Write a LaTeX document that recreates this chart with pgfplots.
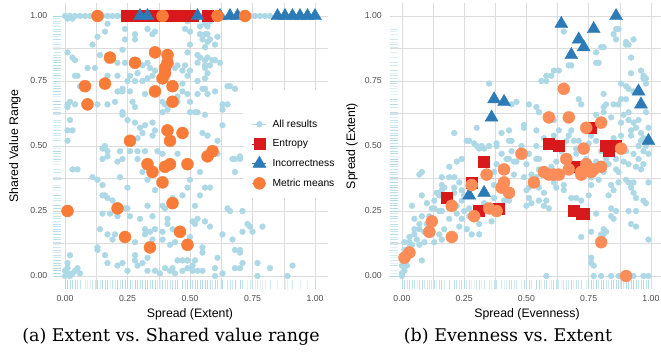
\documentclass[border=0pt]{standalone}
\usepackage{fontspec}
\setsansfont{Liberation Sans}
\newfontfamily\capfont{DejaVu Serif}
\usepackage{pgfplots}
\usepackage{pgfplotstable}
\pgfplotsset{compat=1.18}
\definecolor{ptblue}{HTML}{ADD8E6}
\definecolor{entred}{HTML}{D7191C}
\definecolor{incblue}{HTML}{2C7BB6}
\definecolor{orA}{HTML}{F97B38}
\definecolor{orB}{HTML}{FC8D59}
\definecolor{gridc}{HTML}{DCDCDC}
\definecolor{tickc}{HTML}{4D4D4D}

% ---------- (a) Extent vs shared value range ----------
\pgfplotstableread[row sep=\\]{x y\\
0.00 1.00\\ 0.02 1.00\\ 0.04 1.00\\ 0.06 1.00\\ 0.08 1.00\\ 0.10 1.00\\ 0.12 1.00\\ 0.15 1.00\\ 0.17 1.00\\ 0.19 1.00\\
0.21 1.00\\ 0.23 1.00\\ 0.26 1.00\\ 0.30 1.00\\ 0.34 1.00\\ 0.37 1.00\\ 0.42 1.00\\ 0.45 1.00\\ 0.48 1.00\\ 0.51 1.00\\
0.55 1.00\\ 0.59 1.00\\ 0.63 1.00\\ 0.66 1.00\\ 0.70 1.00\\ 0.74 1.00\\ 0.76 1.00\\ 0.78 1.00\\ 0.80 1.00\\ 0.82 1.00\\
0.85 1.00\\ 0.88 1.00\\ 0.91 1.00\\ 0.94 1.00\\ 0.97 1.00\\ 1.00 1.00\\ 0.01 0.99\\ 0.03 0.99\\
0.17 0.97\\ 0.16 0.94\\ 0.13 0.92\\ 0.24 0.95\\ 0.24 0.91\\ 0.28 0.93\\ 0.28 0.91\\ 0.33 0.95\\ 0.35 0.93\\ 0.36 0.94\\
0.11 0.89\\ 0.23 0.87\\ 0.01 0.86\\ 0.03 0.84\\ 0.04 0.83\\ 0.14 0.85\\ 0.21 0.82\\ 0.24 0.82\\ 0.31 0.81\\ 0.34 0.80\\
0.33 0.82\\ 0.09 0.80\\ 0.12 0.80\\ 0.17 0.77\\ 0.21 0.77\\ 0.04 0.77\\ 0.05 0.77\\ 0.26 0.77\\ 0.29 0.78\\ 0.28 0.75\\
0.25 0.75\\ 0.23 0.72\\ 0.21 0.71\\ 0.23 0.71\\ 0.26 0.71\\ 0.31 0.75\\ 0.32 0.70\\ 0.33 0.76\\ 0.35 0.77\\ 0.36 0.79\\
0.44 0.80\\ 0.45 0.81\\ 0.47 0.79\\ 0.49 0.77\\ 0.47 0.74\\ 0.47 0.71\\ 0.45 0.69\\ 0.45 0.67\\ 0.39 0.67\\ 0.40 0.66\\
0.41 0.64\\ 0.06 0.73\\ 0.02 0.67\\ 0.01 0.66\\ 0.01 0.65\\ 0.04 0.66\\ 0.13 0.66\\ 0.17 0.66\\ 0.20 0.67\\ 0.27 0.67\\
0.28 0.65\\ 0.23 0.63\\ 0.23 0.62\\ 0.25 0.60\\ 0.28 0.59\\ 0.32 0.58\\ 0.35 0.59\\ 0.30 0.57\\ 0.31 0.55\\ 0.29 0.53\\
0.35 0.54\\ 0.01 0.56\\ 0.03 0.56\\ 0.01 0.52\\ 0.02 0.60\\ 0.16 0.50\\ 0.39 0.63\\ 0.36 0.56\\
0.49 0.98\\ 0.48 0.95\\ 0.50 0.94\\ 0.54 0.96\\ 0.56 0.97\\ 0.57 0.96\\ 0.58 0.98\\ 0.54 0.93\\ 0.56 0.93\\ 0.57 0.93\\
0.58 0.91\\ 0.55 0.91\\ 0.57 0.90\\ 0.56 0.88\\ 0.60 0.89\\ 0.61 0.92\\ 0.50 0.89\\ 0.49 0.86\\ 0.53 0.85\\ 0.54 0.84\\
0.56 0.83\\ 0.57 0.84\\ 0.59 0.83\\ 0.53 0.82\\ 0.56 0.81\\ 0.56 0.80\\ 0.58 0.81\\ 0.60 0.83\\ 0.62 0.82\\ 0.48 0.81\\
0.50 0.79\\ 0.57 0.78\\ 0.56 0.76\\ 0.53 0.75\\ 0.56 0.72\\ 0.55 0.72\\ 0.57 0.70\\ 0.53 0.70\\ 0.60 0.71\\ 0.65 0.73\\
0.66 0.73\\ 0.68 0.72\\ 0.49 0.70\\ 0.50 0.67\\ 0.50 0.63\\ 0.52 0.63\\ 0.53 0.63\\ 0.56 0.62\\ 0.63 0.66\\ 0.65 0.66\\
0.63 0.64\\ 0.63 0.58\\ 0.55 0.55\\ 0.61 0.52\\ 0.67 0.45\\ 0.70 0.46\\ 0.57 0.54\\
0.15 0.49\\ 0.17 0.48\\ 0.15 0.45\\ 0.17 0.46\\ 0.21 0.44\\ 0.23 0.45\\ 0.22 0.48\\ 0.26 0.48\\ 0.29 0.48\\ 0.29 0.45\\
0.32 0.48\\ 0.37 0.48\\ 0.39 0.47\\ 0.45 0.47\\ 0.03 0.41\\ 0.05 0.41\\ 0.11 0.38\\ 0.13 0.37\\ 0.15 0.35\\ 0.22 0.38\\
0.31 0.40\\ 0.33 0.37\\ 0.25 0.34\\ 0.15 0.31\\ 0.16 0.31\\ 0.17 0.30\\ 0.19 0.29\\ 0.21 0.27\\ 0.24 0.26\\ 0.25 0.26\\
0.33 0.27\\ 0.39 0.27\\ 0.40 0.26\\ 0.43 0.30\\ 0.44 0.29\\ 0.47 0.31\\ 0.36 0.33\\ 0.41 0.22\\ 0.41 0.20\\ 0.18 0.24\\
0.15 0.24\\ 0.21 0.23\\ 0.26 0.23\\ 0.30 0.22\\ 0.35 0.23\\ 0.14 0.18\\ 0.17 0.16\\ 0.20 0.16\\ 0.19 0.14\\ 0.24 0.15\\
0.28 0.13\\ 0.32 0.18\\ 0.32 0.16\\ 0.34 0.17\\ 0.36 0.18\\ 0.35 0.14\\ 0.39 0.17\\ 0.39 0.14\\ 0.43 0.18\\ 0.42 0.12\\
0.44 0.13\\ 0.49 0.13\\ 0.50 0.15\\ 0.13 0.11\\ 0.13 0.10\\ 0.16 0.08\\ 0.17 0.05\\ 0.21 0.04\\ 0.23 0.05\\ 0.28 0.08\\
0.28 0.06\\ 0.29 0.04\\ 0.33 0.07\\ 0.31 0.05\\ 0.33 0.02\\ 0.36 0.02\\ 0.38 0.01\\ 0.40 0.03\\ 0.42 0.02\\ 0.43 0.03\\
0.44 0.01\\ 0.45 0.06\\ 0.47 0.06\\ 0.47 0.02\\ 0.49 0.06\\ 0.25 0.02\\ 0.02 0.08\\ 0.01 0.05\\ 0.01 0.03\\ 0.01 0.01\\
0.03 0.01\\ 0.04 0.02\\ 0.06 0.01\\ 0.05 0.03\\ 0.00 0.00\\ 0.00 0.02\\ 0.02 0.00\\
0.61 0.47\\ 0.68 0.45\\ 0.70 0.45\\ 0.68 0.40\\ 0.54 0.40\\ 0.50 0.37\\ 0.56 0.34\\ 0.58 0.34\\ 0.49 0.34\\ 0.54 0.31\\
0.52 0.27\\ 0.65 0.26\\ 0.66 0.25\\ 0.71 0.25\\ 0.53 0.22\\ 0.51 0.21\\ 0.52 0.20\\ 0.56 0.21\\ 0.58 0.19\\ 0.73 0.20\\
0.74 0.19\\ 0.79 0.19\\ 0.75 0.17\\ 0.71 0.17\\ 0.63 0.16\\ 0.67 0.14\\ 0.68 0.10\\ 0.70 0.10\\ 0.70 0.09\\ 0.55 0.11\\
0.55 0.09\\ 0.61 0.07\\ 0.49 0.06\\ 0.71 0.05\\ 0.77 0.05\\ 0.68 0.03\\ 0.70 0.03\\ 0.82 0.03\\ 0.91 0.04\\ 0.49 0.03\\
0.51 0.02\\ 0.53 0.02\\ 0.55 0.02\\ 0.60 0.03\\ 0.63 0.01\\ 0.60 0.00\\ 0.77 0.00\\ 0.89 0.00\\ 0.52 0.06\\ 0.51 0.04\\
0.49 0.43\\
}\leftall

\pgfplotstableread[row sep=\\]{x y\\
0.245 1\\ 0.275 1\\ 0.305 1\\ 0.335 1\\ 0.365 1\\ 0.395 1\\ 0.425 1\\ 0.455 1\\ 0.485 1\\ 0.51 1\\ 0.57 1\\
}\leftent

\pgfplotstableread[row sep=\\]{x y\\
0.30 1\\ 0.33 1\\ 0.53 1\\ 0.62 1\\ 0.66 1\\ 0.69 1\\ 0.85 1\\ 0.88 1\\ 0.91 1\\ 0.94 1\\ 0.97 1\\ 1.00 1\\
}\leftinc

\pgfplotstableread[row sep=\\]{x y\\
0.13 1.00\\ 0.39 1.00\\ 0.61 1.00\\ 0.72 1.00\\ 0.36 0.86\\ 0.41 0.85\\ 0.41 0.82\\ 0.40 0.80\\ 0.40 0.78\\ 0.39 0.76\\
0.18 0.84\\ 0.28 0.82\\ 0.16 0.74\\ 0.08 0.73\\ 0.09 0.66\\ 0.36 0.71\\ 0.43 0.73\\ 0.43 0.67\\ 0.26 0.52\\ 0.41 0.56\\
0.42 0.52\\ 0.47 0.55\\ 0.33 0.43\\ 0.35 0.40\\ 0.40 0.42\\ 0.42 0.43\\ 0.49 0.43\\ 0.57 0.46\\ 0.59 0.48\\ 0.01 0.25\\
0.21 0.26\\ 0.43 0.28\\ 0.39 0.36\\ 0.24 0.15\\ 0.46 0.17\\ 0.34 0.11\\ 0.49 0.12\\
}\leftmean

% ---------- (b) Evenness vs extent ----------
\pgfplotstableread[row sep=\\]{x y\\
0.35 0.74\\ 0.44 0.66\\ 0.46 0.67\\ 0.21 0.55\\ 0.30 0.57\\ 0.40 0.55\\ 0.43 0.56\\ 0.49 0.58\\ 0.44 0.52\\ 0.26 0.52\\
0.27 0.52\\ 0.29 0.51\\ 0.32 0.50\\ 0.35 0.50\\ 0.38 0.51\\ 0.31 0.49\\
0.86 0.95\\ 0.87 0.95\\ 0.86 0.91\\ 0.90 0.89\\ 0.91 0.89\\ 0.92 0.84\\ 0.80 0.88\\ 0.81 0.88\\ 0.78 0.86\\ 0.79 0.82\\
0.68 0.81\\ 0.67 0.81\\ 0.63 0.79\\ 0.61 0.79\\ 0.58 0.77\\ 0.56 0.75\\ 0.92 0.78\\ 0.97 0.76\\ 0.98 0.76\\ 0.98 0.74\\
0.88 0.74\\ 0.90 0.73\\ 0.91 0.72\\ 0.93 0.71\\ 0.81 0.70\\ 0.88 0.68\\ 0.90 0.68\\ 0.71 0.68\\ 0.72 0.66\\ 0.81 0.65\\
0.82 0.66\\ 0.85 0.66\\ 0.87 0.66\\ 0.89 0.62\\ 0.91 0.63\\ 0.81 0.63\\ 0.78 0.62\\ 0.84 0.61\\ 0.98 0.63\\ 0.88 0.59\\
0.91 0.60\\ 0.93 0.59\\ 0.95 0.60\\ 0.94 0.57\\ 0.92 0.54\\ 0.51 0.66\\ 0.54 0.65\\ 0.55 0.63\\ 0.49 0.58\\ 0.61 0.60\\
0.63 0.56\\ 0.67 0.54\\ 0.61 0.54\\ 0.68 0.56\\ 0.69 0.52\\ 0.71 0.52\\ 0.54 0.50\\ 0.66 0.52\\ 0.76 0.54\\ 0.78 0.52\\
0.85 0.53\\ 0.88 0.54\\ 0.96 0.55\\ 0.96 0.52\\ 0.99 0.57\\ 0.92 0.56\\ 0.85 0.93\\ 0.93 0.91\\ 0.90 0.90\\ 0.96 0.79\\
0.97 0.77\\ 0.65 0.94\\ 0.78 0.82\\ 0.58 0.75\\ 0.60 0.77\\
0.30 0.50\\ 0.33 0.49\\ 0.19 0.42\\ 0.22 0.44\\ 0.24 0.45\\ 0.07 0.39\\ 0.08 0.40\\ 0.16 0.35\\ 0.19 0.38\\ 0.21 0.38\\
0.23 0.36\\ 0.21 0.34\\ 0.17 0.34\\ 0.16 0.33\\ 0.15 0.31\\ 0.13 0.29\\ 0.08 0.31\\ 0.04 0.27\\ 0.13 0.26\\ 0.15 0.25\\
0.16 0.25\\ 0.19 0.26\\ 0.22 0.27\\ 0.24 0.29\\ 0.25 0.25\\ 0.27 0.26\\ 0.27 0.23\\ 0.24 0.22\\ 0.08 0.23\\ 0.07 0.20\\
0.05 0.18\\ 0.05 0.16\\ 0.10 0.20\\ 0.15 0.16\\ 0.17 0.18\\ 0.16 0.14\\ 0.13 0.13\\ 0.09 0.13\\ 0.07 0.12\\ 0.04 0.12\\
0.03 0.11\\ 0.01 0.10\\ 0.01 0.06\\ 0.00 0.04\\ 0.01 0.02\\ 0.02 0.04\\ 0.08 0.06\\ 0.03 0.08\\ 0.23 0.19\\ 0.26 0.18\\
0.31 0.16\\ 0.28 0.16\\ 0.36 0.21\\ 0.31 0.20\\ 0.37 0.30\\ 0.41 0.29\\ 0.43 0.29\\ 0.43 0.45\\ 0.45 0.44\\ 0.45 0.39\\
0.37 0.40\\ 0.37 0.35\\ 0.33 0.28\\ 0.19 0.22\\ 0.22 0.24\\ 0.11 0.23\\ 0.12 0.26\\ 0.10 0.28\\ 0.25 0.31\\ 0.21 0.32\\
0.24 0.33\\ 0.16 0.38\\ 0.14 0.32\\ 0.07 0.18\\ 0.05 0.22\\ 0.03 0.15\\ 0.01 0.13\\ 0.00 0.00\\ 0.00 0.01\\
0.38 0.50\\ 0.43 0.52\\ 0.49 0.57\\ 0.54 0.56\\ 0.57 0.53\\ 0.51 0.47\\ 0.40 0.47\\ 0.42 0.45\\ 0.44 0.48\\ 0.46 0.44\\
0.38 0.43\\ 0.01 0.08\\ 0.02 0.10\\ 0.03 0.13\\ 0.04 0.09\\ 0.06 0.14\\ 0.09 0.17\\ 0.11 0.19\\ 0.12 0.16\\
0.48 0.50\\ 0.54 0.45\\ 0.55 0.45\\ 0.50 0.43\\ 0.55 0.41\\ 0.52 0.39\\ 0.49 0.38\\ 0.51 0.34\\ 0.55 0.34\\ 0.57 0.32\\
0.55 0.29\\ 0.58 0.29\\ 0.57 0.27\\ 0.59 0.26\\ 0.51 0.30\\ 0.52 0.28\\ 0.50 0.27\\ 0.65 0.35\\ 0.65 0.33\\ 0.61 0.36\\
0.62 0.34\\ 0.68 0.30\\ 0.70 0.30\\ 0.72 0.29\\ 0.75 0.31\\ 0.76 0.35\\ 0.84 0.35\\ 0.85 0.33\\ 0.87 0.36\\ 0.90 0.37\\
0.91 0.36\\ 0.93 0.36\\ 0.92 0.34\\ 0.99 0.36\\ 0.94 0.30\\ 0.97 0.29\\ 0.98 0.28\\ 0.84 0.26\\ 0.86 0.25\\ 0.91 0.25\\
0.94 0.25\\ 0.78 0.24\\ 0.84 0.23\\ 0.85 0.22\\ 0.92 0.20\\ 0.94 0.19\\ 0.99 0.14\\ 0.81 0.18\\ 0.82 0.17\\ 0.81 0.16\\
0.80 0.16\\ 0.72 0.15\\ 0.76 0.17\\ 0.76 0.07\\ 0.76 0.05\\ 0.77 0.04\\ 0.58 0.00\\ 0.77 0.00\\ 0.80 0.00\\ 0.84 0.00\\
0.87 0.00\\ 0.93 0.00\\ 0.97 0.00\\ 0.99 0.00\\ 0.86 0.41\\ 0.87 0.40\\ 0.91 0.43\\ 0.94 0.42\\ 0.96 0.41\\ 0.97 0.43\\
0.93 0.47\\ 0.97 0.48\\ 0.99 0.47\\ 0.90 0.48\\ 0.80 0.48\\ 0.84 0.47\\ 0.93 0.32\\ 0.83 0.31\\ 0.54 0.38\\ 0.64 0.48\\
0.50 0.33\\ 0.62 0.44\\ 0.66 0.46\\ 0.70 0.47\\ 0.74 0.45\\ 0.78 0.44\\ 0.82 0.45\\ 0.60 0.42\\ 0.68 0.43\\ 0.76 0.38\\
0.79 0.37\\ 0.81 0.40\\ 0.83 0.43\\ 0.86 0.45\\ 0.89 0.44\\ 0.95 0.45\\ 0.98 0.50\\ 0.99 0.52\\ 0.97 0.53\\ 0.95 0.50\\
0.62 0.50\\ 0.70 0.49\\ 0.75 0.51\\
}\rightall

\pgfplotstableread[row sep=\\]{x y\\
0.59 0.51\\ 0.63 0.50\\ 0.82 0.50\\ 0.86 0.50\\ 0.83 0.48\\ 0.70 0.42\\ 0.76 0.57\\ 0.33 0.44\\ 0.28 0.36\\ 0.18 0.30\\
0.31 0.25\\ 0.39 0.26\\ 0.69 0.25\\ 0.72 0.24\\ 0.73 0.24\\
}\rightent

\pgfplotstableread[row sep=\\]{x y\\
0.64 0.97\\ 0.86 1.00\\ 0.77 0.95\\ 0.71 0.91\\ 0.73 0.88\\ 0.68 0.85\\ 0.95 0.71\\ 0.96 0.66\\ 0.99 0.52\\ 0.37 0.68\\
0.41 0.67\\ 0.36 0.61\\ 0.27 0.31\\ 0.33 0.32\\
}\rightinc

\pgfplotstableread[row sep=\\]{x y\\
0.65 0.72\\ 0.59 0.61\\ 0.67 0.61\\ 0.80 0.59\\ 0.74 0.57\\ 0.73 0.49\\ 0.88 0.49\\ 0.48 0.47\\ 0.41 0.41\\ 0.34 0.39\\
0.41 0.36\\ 0.40 0.34\\ 0.43 0.32\\ 0.28 0.35\\ 0.20 0.27\\ 0.35 0.26\\ 0.38 0.25\\ 0.29 0.23\\ 0.12 0.21\\ 0.11 0.17\\
0.20 0.15\\ 0.03 0.09\\ 0.01 0.07\\ 0.66 0.45\\ 0.57 0.40\\ 0.59 0.39\\ 0.61 0.39\\ 0.63 0.39\\ 0.67 0.41\\ 0.72 0.40\\
0.74 0.41\\ 0.77 0.41\\ 0.80 0.42\\ 0.74 0.43\\ 0.72 0.39\\ 0.76 0.40\\ 0.53 0.36\\ 0.80 0.13\\ 0.90 0.00\\
}\rightmean

\pgfplotsset{
  panel/.style={
    scale only axis, height=286pt,
    ymin=-0.05, ymax=1.05,
    xtick={0,0.25,0.5,0.75,1}, ytick={0,0.25,0.5,0.75,1},
    minor tick num=1,
    grid=both,
    major grid style={draw=gridc, line width=0.8pt},
    minor grid style={draw=gridc, line width=0.5pt},
    axis line style={draw=none},
    major tick length=0pt, minor tick length=0pt,
    tick style={draw=none},
    /pgf/number format/fixed,
    /pgf/number format/fixed zerofill,
    /pgf/number format/precision=2,
    /pgf/number format/assume math mode=true,
    tick label style={font=\sffamily\fontsize{8.7}{10}\selectfont, text=tickc},
    xticklabel style={anchor=base, yshift=-13pt},
    legend image code/.code={\path (0pt,0pt) -- (14pt,0pt); \draw[##1] plot coordinates {(7pt,0pt)};},
  },
  rug/.style={only marks, ptblue, opacity=0.35, mark options={line width=0.7pt}, forget plot},
}

\begin{document}
\begin{tikzpicture}
\useasboundingbox (0,0) rectangle (661pt,353pt);

\begin{axis}[panel, at={(52.5pt,64pt)}, anchor=south west, width=275pt,
  xmin=-0.05, xmax=1.05,
  yticklabel style={xshift=-1.7pt},
  xlabel={Spread (Extent)}, ylabel={Shared Value Range},
  every axis x label/.style={at={(rel axis cs:0.5,-0.1014)}, anchor=base, font=\sffamily\fontsize{12.3}{14}\selectfont},
  every axis y label/.style={at={(rel axis cs:-0.1364,0.5)}, rotate=90, anchor=center, font=\sffamily\fontsize{12.3}{14}\selectfont},
  legend cell align=left,
  legend style={at={(rel axis cs:0.6927,0.6976)}, anchor=north west, fill=white, draw=none,
    inner xsep=9pt, inner ysep=5pt, /tikz/column sep=3pt,
    font=\sffamily\fontsize{10.3}{12}\selectfont,
    nodes={minimum height=19.7pt, inner xsep=3pt, inner ysep=0pt}},
]
\addplot[rug, mark=-, mark size=4.1pt] table[x expr=-0.0336, y index=1] {\leftall};
\addplot[rug, mark=|, mark size=4.3pt] table[x index=0, y expr=-0.0335] {\leftall};
\addlegendimage{empty legend}
\addlegendentry{}
\addplot[only marks, mark=*, mark size=2.9pt, color=ptblue] table {\leftall};
\addlegendentry{All results}
\addplot[only marks, mark=square*, mark size=5.5pt, color=entred] table {\leftent};
\addlegendentry{Entropy}
\addplot[only marks, mark=triangle*, mark size=7.5pt, color=incblue] table {\leftinc};
\addlegendentry{Incorrectness}
\addplot[only marks, mark=*, mark size=6pt, color=orA] table {\leftmean};
\addlegendentry{Metric means}
\end{axis}

\begin{axis}[panel, at={(389.5pt,64pt)}, anchor=south west, width=271.5pt,
  xmin=-0.05, xmax=1.0404,
  yticklabel style={xshift=-4.2pt},
  xlabel={Spread (Evenness)}, ylabel={Spread (Extent)},
  every axis x label/.style={at={(rel axis cs:0.5064,-0.1014)}, anchor=base, font=\sffamily\fontsize{12.3}{14}\selectfont},
  every axis y label/.style={at={(rel axis cs:-0.1381,0.5)}, rotate=90, anchor=center, font=\sffamily\fontsize{12.3}{14}\selectfont},
]
\addplot[rug, mark=-, mark size=4.1pt] table[x expr=-0.0335, y index=1] {\rightall};
\addplot[rug, mark=|, mark size=4.3pt] table[x index=0, y expr=-0.0335] {\rightall};
\addplot[only marks, mark=*, mark size=2.9pt, color=ptblue] table {\rightall};
\addplot[only marks, mark=square*, mark size=5.5pt, color=entred] table {\rightent};
\addplot[only marks, mark=triangle*, mark size=7.5pt, color=incblue] table {\rightinc};
\addplot[only marks, mark=*, mark size=6pt, color=orB] table {\rightmean};
\end{axis}

\node[anchor=base, font=\capfont\fontsize{17.5}{20}\selectfont] at (171pt,11pt) {(a) Extent vs.\ Shared value range};
\node[anchor=base, font=\capfont\fontsize{17.5}{20}\selectfont] at (508pt,11pt) {(b) Evenness vs.\ Extent};
\end{tikzpicture}
\end{document}
